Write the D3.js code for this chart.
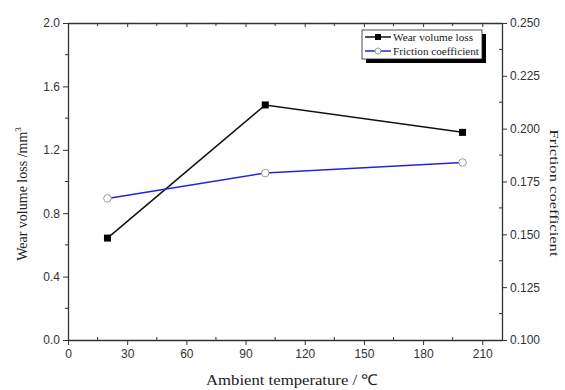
<!DOCTYPE html>
<html><head><meta charset="utf-8">
<script src="https://cdn.jsdelivr.net/npm/d3@7"></script>
<style>body{margin:0;background:#fff}svg{display:block}</style>
</head><body>
<svg id="c" width="565" height="390"></svg>
<script>
const temps = [20, 100, 200];
const wearLoss = [0.643, 1.483, 1.31];
const friction = [0.167, 0.179, 0.184];
const xTicks = [0, 30, 60, 90, 120, 150, 180, 210];
const yLeftTicks = [0.0, 0.4, 0.8, 1.2, 1.6, 2.0];
const yRightTicks = [0.100, 0.125, 0.150, 0.175, 0.200, 0.225, 0.250];
const seriesNames = ["Wear volume loss", "Friction coefficient"];

const svg = d3.select("#c");
const m = {l: 68, r: 502, t: 23, b: 340};
const x = d3.scaleLinear().domain([0, 220]).range([m.l, m.r]);
const yL = d3.scaleLinear().domain([0, 2]).range([m.b, m.t]);
const yR = d3.scaleLinear().domain([0.1, 0.25]).range([m.b, m.t]);
const tickFont = "Liberation Sans, Arial, sans-serif";
const serif = "Liberation Serif, Times New Roman, serif";
const axisColor = "#333";

function styleAxis(g){
  g.selectAll("path").attr("stroke", axisColor).attr("stroke-width", 1.3);
  g.selectAll("line").attr("stroke", axisColor).attr("stroke-width", 1);
  g.selectAll("text").attr("font-family", tickFont).attr("font-size", 12).attr("fill", "#333");
}
const xMinor = d3.range(15, 220, 30);
const yLMinor = d3.range(0.2, 2, 0.4);
const yRMinor = d3.range(0.1125, 0.25, 0.025);

const gb = svg.append("g").attr("transform", `translate(0,${m.b})`)
  .call(d3.axisBottom(x).tickValues(xTicks).tickSize(5).tickPadding(4).tickSizeOuter(0).tickFormat(d3.format("d")));
styleAxis(gb);
gb.selectAll(".minor").data(xMinor).enter().append("line")
  .attr("x1", d=>x(d)).attr("x2", d=>x(d)).attr("y1", -3).attr("y2", 0).attr("stroke", axisColor);
const gt = svg.append("g").attr("transform", `translate(0,${m.t})`)
  .call(d3.axisTop(x).tickValues(xTicks).tickSize(-4).tickSizeOuter(0).tickFormat(""));
styleAxis(gt);
gt.selectAll(".minor").data(xMinor).enter().append("line")
  .attr("x1", d=>x(d)).attr("x2", d=>x(d)).attr("y1", 0).attr("y2", 3).attr("stroke", axisColor);
const gl = svg.append("g").attr("transform", `translate(${m.l},0)`)
  .call(d3.axisLeft(yL).tickValues(yLeftTicks).tickSize(5).tickPadding(3).tickSizeOuter(0).tickFormat(d3.format(".1f")));
styleAxis(gl);
gl.selectAll(".minor").data(yLMinor).enter().append("line")
  .attr("y1", d=>yL(d)).attr("y2", d=>yL(d)).attr("x1", -3).attr("x2", 0).attr("stroke", axisColor);
const gr = svg.append("g").attr("transform", `translate(${m.r},0)`)
  .call(d3.axisRight(yR).tickValues(yRightTicks).tickSize(5).tickPadding(3).tickSizeOuter(0).tickFormat(d3.format(".3f")));
styleAxis(gr);
gr.selectAll(".minor").data(yRMinor).enter().append("line")
  .attr("y1", d=>yR(d)).attr("y2", d=>yR(d)).attr("x1", -3).attr("x2", 0).attr("stroke", axisColor);

const wearData = temps.map((t,i)=>({t, v: wearLoss[i]}));
const fricData = temps.map((t,i)=>({t, v: friction[i]}));
svg.append("path").datum(wearData)
  .attr("d", d3.line().x(d=>x(d.t)).y(d=>yL(d.v)))
  .attr("fill","none").attr("stroke","#111").attr("stroke-width",1.5);
svg.append("path").datum(fricData)
  .attr("d", d3.line().x(d=>x(d.t)).y(d=>yR(d.v)))
  .attr("fill","none").attr("stroke","#2424d8").attr("stroke-width",1.5);
svg.selectAll(".sq").data(wearData).enter().append("rect")
  .attr("x", d=>x(d.t)-3.5).attr("y", d=>yL(d.v)-3.5).attr("width",7).attr("height",7).attr("fill","#000");
svg.selectAll(".ci").data(fricData).enter().append("circle")
  .attr("cx", d=>x(d.t)).attr("cy", d=>yR(d.v)).attr("r",3.8)
  .attr("fill","#fff").attr("stroke","#999").attr("stroke-width",1);

const lg = svg.append("g");
lg.append("rect").attr("x",366).attr("y",34).attr("width",120).attr("height",29).attr("fill","#000");
lg.append("rect").attr("x",362).attr("y",30).attr("width",120).attr("height",29).attr("fill","#fff").attr("stroke","#222").attr("stroke-width",0.8);
lg.append("line").attr("x1",365).attr("x2",391).attr("y1",37).attr("y2",37).attr("stroke","#111").attr("stroke-width",1.5);
lg.append("rect").attr("x",375).attr("y",34).attr("width",6).attr("height",6).attr("fill","#000");
lg.append("line").attr("x1",365).attr("x2",391).attr("y1",51).attr("y2",51).attr("stroke","#2424d8").attr("stroke-width",1.5);
lg.append("circle").attr("cx",378).attr("cy",51).attr("r",3).attr("fill","#fff").attr("stroke","#999");
lg.append("text").attr("x",393).attr("y",40.5).text(seriesNames[0])
  .attr("font-family",serif).attr("font-size",11).attr("fill","#222")
  .attr("textLength",80).attr("lengthAdjust","spacingAndGlyphs");
lg.append("text").attr("x",393).attr("y",54.5).text(seriesNames[1])
  .attr("font-family",serif).attr("font-size",11).attr("fill","#222")
  .attr("textLength",86).attr("lengthAdjust","spacingAndGlyphs");

svg.append("text").attr("x", 292).attr("y", 385).attr("text-anchor","middle")
  .attr("font-family",serif).attr("font-size",15).attr("fill","#222")
  .attr("textLength",172).attr("lengthAdjust","spacingAndGlyphs")
  .text("Ambient temperature / ℃");
const lt = svg.append("text").attr("transform",`translate(27,194) rotate(-90)`)
  .attr("text-anchor","middle").attr("font-family",serif).attr("font-size",14).attr("fill","#222");
lt.append("tspan").text("Wear volume loss /mm");
lt.append("tspan").attr("dy",-6).attr("font-size",9).text("3");
svg.append("text").attr("transform",`translate(550,193) rotate(90)`)
  .attr("text-anchor","middle").attr("font-family",serif).attr("font-size",13).attr("fill","#222")
  .attr("textLength",127).attr("lengthAdjust","spacingAndGlyphs")
  .text(seriesNames[1]);
</script>
</body></html>
